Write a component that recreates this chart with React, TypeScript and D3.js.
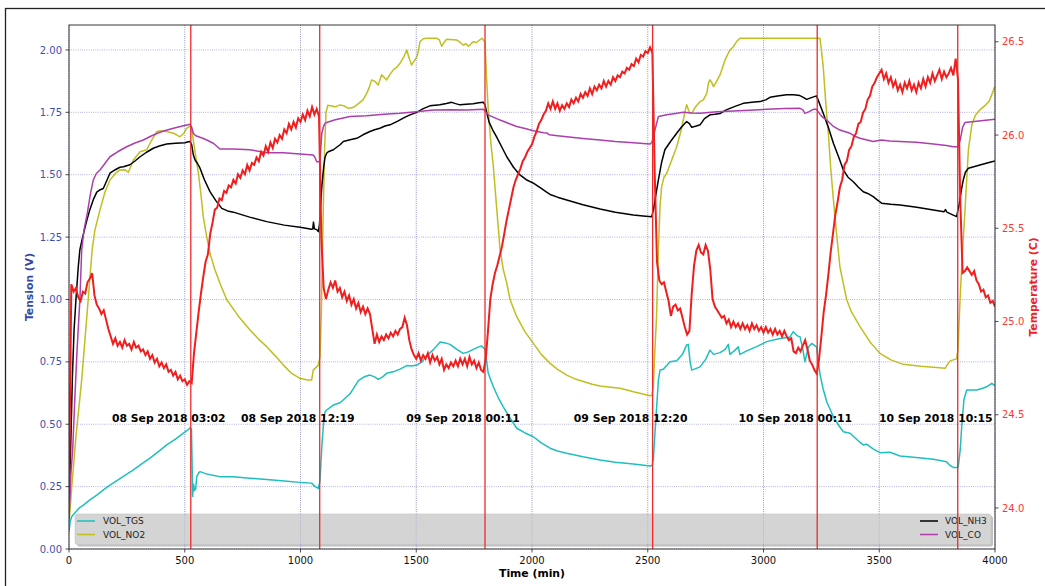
import * as d3 from "d3";
import { useEffect } from "react";

// sensor voltages, [minute, volts]
const tgsPoints: [number, number][] = [
  [0, 0.07], [5, 0.11], [12, 0.13], [26, 0.145], [45, 0.165], [62, 0.176], [90, 0.197], [120, 0.216],
  [150, 0.238], [177, 0.256], [230, 0.288], [278, 0.317], [320, 0.345], [350, 0.364], [390, 0.393],
  [422, 0.417], [460, 0.44], [494, 0.464], [515, 0.478], [523, 0.486], [529, 0.48], [532, 0.33],
  [534, 0.21], [538, 0.26], [542, 0.235], [547, 0.24], [552, 0.29], [560, 0.305], [566, 0.31],
  [590, 0.302], [609, 0.298], [652, 0.29], [710, 0.29], [780, 0.284], [854, 0.279], [930, 0.273],
  [998, 0.267], [1048, 0.264], [1063, 0.25], [1077, 0.243], [1084, 0.27], [1092, 0.41], [1100, 0.51],
  [1106, 0.55], [1113, 0.557], [1142, 0.577], [1171, 0.586], [1214, 0.622], [1250, 0.675],
  [1275, 0.69], [1300, 0.697], [1320, 0.69], [1336, 0.68], [1355, 0.69], [1372, 0.704], [1400, 0.71],
  [1430, 0.721], [1459, 0.735], [1480, 0.733], [1502, 0.737], [1525, 0.75], [1545, 0.774],
  [1575, 0.8], [1603, 0.83], [1625, 0.826], [1646, 0.82], [1675, 0.8], [1703, 0.784], [1725, 0.79],
  [1746, 0.8], [1770, 0.81], [1783, 0.814], [1797, 0.8], [1811, 0.704], [1833, 0.65], [1855, 0.605],
  [1876, 0.57], [1905, 0.525], [1934, 0.484], [1970, 0.465], [2006, 0.45], [2040, 0.425],
  [2078, 0.404], [2110, 0.393], [2150, 0.384], [2220, 0.37], [2294, 0.357], [2360, 0.348],
  [2438, 0.341], [2510, 0.333], [2519, 0.335], [2524, 0.36], [2535, 0.52], [2546, 0.677],
  [2553, 0.717], [2567, 0.72], [2596, 0.75], [2625, 0.754], [2650, 0.78], [2668, 0.818], [2675, 0.82],
  [2683, 0.75], [2690, 0.717], [2726, 0.73], [2750, 0.76], [2769, 0.797], [2784, 0.78], [2812, 0.787],
  [2835, 0.8], [2848, 0.82], [2855, 0.78], [2875, 0.795], [2891, 0.81], [2898, 0.78], [2930, 0.795],
  [2970, 0.811], [3014, 0.831], [3071, 0.844], [3114, 0.85], [3129, 0.871], [3145, 0.855],
  [3158, 0.85], [3170, 0.8], [3179, 0.75], [3194, 0.81], [3208, 0.824], [3229, 0.81], [3244, 0.7],
  [3258, 0.64], [3273, 0.59], [3302, 0.53], [3325, 0.495], [3345, 0.47], [3374, 0.464], [3402, 0.44],
  [3420, 0.425], [3431, 0.417], [3445, 0.42], [3475, 0.4], [3503, 0.386], [3546, 0.388], [3590, 0.373],
  [3660, 0.367], [3734, 0.36], [3791, 0.35], [3805, 0.335], [3820, 0.327], [3841, 0.327], [3850, 0.4],
  [3856, 0.49], [3866, 0.6], [3878, 0.637], [3921, 0.637], [3950, 0.645], [3964, 0.65], [3986, 0.664],
  [4000, 0.655],
];

const no2Points: [number, number][] = [
  [0, 0.1], [12, 0.25], [30, 0.45], [55, 0.68], [83, 1.0], [100, 1.2], [112, 1.279], [134, 1.359],
  [155, 1.43], [177, 1.479], [200, 1.505], [220, 1.519], [240, 1.52], [256, 1.51], [268, 1.535],
  [278, 1.559], [307, 1.592], [336, 1.6], [355, 1.635], [379, 1.673], [400, 1.676], [422, 1.673],
  [451, 1.666], [465, 1.66], [479, 1.652], [495, 1.665], [508, 1.686], [523, 1.695], [530, 1.68],
  [537, 1.639], [548, 1.57], [559, 1.506], [570, 1.42], [580, 1.332], [595, 1.25], [609, 1.185],
  [630, 1.12], [652, 1.065], [681, 1.0], [730, 0.935], [782, 0.878], [820, 0.84], [854, 0.811],
  [890, 0.775], [926, 0.737], [960, 0.705], [998, 0.684], [1030, 0.677], [1048, 0.677], [1055, 0.717],
  [1077, 0.737], [1084, 0.77], [1090, 0.95], [1097, 1.3], [1104, 1.6], [1110, 1.75], [1118, 1.778],
  [1150, 1.772], [1171, 1.78], [1190, 1.775], [1207, 1.766], [1229, 1.77], [1250, 1.785], [1270, 1.8],
  [1286, 1.826], [1297, 1.85], [1307, 1.88], [1320, 1.875], [1336, 1.86], [1350, 1.9], [1362, 1.89],
  [1372, 1.88], [1385, 1.9], [1401, 1.92], [1415, 1.93], [1430, 1.947], [1445, 1.97], [1459, 2.0],
  [1470, 1.965], [1480, 1.94], [1490, 1.955], [1502, 1.97], [1510, 2.0], [1516, 2.033], [1530, 2.045],
  [1545, 2.047], [1588, 2.047], [1600, 2.04], [1610, 2.015], [1620, 2.03], [1631, 2.043], [1674, 2.04],
  [1690, 2.03], [1703, 2.02], [1715, 2.025], [1725, 2.015], [1746, 2.033], [1760, 2.03], [1783, 2.047],
  [1797, 2.033], [1803, 1.9], [1811, 1.76], [1822, 1.63], [1833, 1.532], [1848, 1.36], [1862, 1.2],
  [1876, 1.12], [1891, 1.065], [1905, 1.0], [1934, 0.931], [1970, 0.87], [2006, 0.824], [2040, 0.78],
  [2078, 0.744], [2110, 0.72], [2150, 0.697], [2190, 0.68], [2222, 0.671], [2260, 0.66], [2294, 0.653],
  [2340, 0.648], [2380, 0.644], [2410, 0.637], [2438, 0.63], [2475, 0.622], [2510, 0.614],
  [2518, 0.616], [2524, 0.65], [2531, 0.8], [2538, 0.93], [2546, 1.2], [2553, 1.372], [2560, 1.452],
  [2570, 1.49], [2582, 1.506], [2600, 1.55], [2625, 1.612], [2645, 1.68], [2660, 1.75], [2668, 1.78],
  [2680, 1.75], [2690, 1.746], [2705, 1.77], [2726, 1.793], [2740, 1.8], [2755, 1.826], [2763, 1.87],
  [2769, 1.88], [2776, 1.87], [2784, 1.853], [2795, 1.87], [2812, 1.9], [2834, 1.96], [2855, 2.0],
  [2870, 2.013], [2885, 2.035], [2898, 2.047], [3244, 2.047], [3250, 2.0], [3258, 1.933], [3268, 1.8],
  [3280, 1.666], [3290, 1.53], [3302, 1.399], [3316, 1.26], [3330, 1.131], [3359, 1.0], [3380, 0.95],
  [3417, 0.891], [3460, 0.83], [3503, 0.784], [3550, 0.758], [3604, 0.74], [3680, 0.732],
  [3748, 0.727], [3784, 0.724], [3795, 0.74], [3806, 0.754], [3834, 0.762], [3840, 0.8], [3849, 1.0],
  [3860, 1.2], [3870, 1.35], [3885, 1.6], [3900, 1.7], [3915, 1.737], [3935, 1.76], [3960, 1.78],
  [3975, 1.795], [3990, 1.83], [4000, 1.855],
];

const nh3Points: [number, number][] = [
  [0, 0.15], [7, 0.4], [15, 0.7], [22, 0.88], [30, 1.0], [40, 1.13], [47, 1.2], [59, 1.25], [75, 1.31],
  [90, 1.36], [105, 1.4], [120, 1.43], [135, 1.44], [148, 1.445], [160, 1.47], [177, 1.506], [200, 1.52],
  [220, 1.53], [235, 1.532], [263, 1.54], [285, 1.555], [307, 1.572], [335, 1.59], [364, 1.606],
  [390, 1.615], [422, 1.623], [460, 1.626], [501, 1.628], [515, 1.632], [523, 1.633], [530, 1.62],
  [537, 1.58], [544, 1.56], [555, 1.545], [566, 1.526], [585, 1.48], [609, 1.432], [635, 1.395],
  [660, 1.365], [685, 1.355], [710, 1.35], [780, 1.33], [854, 1.312], [930, 1.298], [998, 1.289],
  [1048, 1.281], [1053, 1.283], [1056, 1.31], [1060, 1.283], [1070, 1.28], [1077, 1.272], [1082, 1.3],
  [1087, 1.38], [1092, 1.452], [1100, 1.53], [1106, 1.57], [1113, 1.586], [1120, 1.592], [1142, 1.6],
  [1171, 1.62], [1185, 1.633], [1214, 1.64], [1243, 1.646], [1270, 1.66], [1300, 1.673], [1320, 1.68],
  [1343, 1.686], [1365, 1.695], [1387, 1.7], [1420, 1.715], [1450, 1.73], [1473, 1.74], [1502, 1.75],
  [1530, 1.765], [1559, 1.776], [1602, 1.78], [1630, 1.785], [1653, 1.79], [1670, 1.785], [1689, 1.78],
  [1715, 1.782], [1746, 1.784], [1770, 1.788], [1790, 1.79], [1797, 1.78], [1804, 1.75], [1815, 1.71],
  [1830, 1.68], [1847, 1.652], [1870, 1.61], [1891, 1.572], [1920, 1.53], [1948, 1.499], [1975, 1.48],
  [2006, 1.466], [2040, 1.445], [2060, 1.432], [2078, 1.421], [2110, 1.41], [2150, 1.399], [2220, 1.38],
  [2294, 1.363], [2360, 1.35], [2438, 1.339], [2480, 1.335], [2517, 1.332], [2525, 1.36], [2535, 1.42],
  [2546, 1.479], [2560, 1.55], [2574, 1.6], [2600, 1.635], [2625, 1.666], [2645, 1.69], [2668, 1.713],
  [2680, 1.705], [2690, 1.69], [2710, 1.695], [2726, 1.7], [2745, 1.725], [2769, 1.74], [2790, 1.742],
  [2812, 1.745], [2835, 1.758], [2855, 1.766], [2880, 1.775], [2913, 1.786], [2950, 1.79], [2985, 1.793],
  [3010, 1.8], [3028, 1.81], [3060, 1.815], [3100, 1.82], [3130, 1.82], [3157, 1.817], [3172, 1.81],
  [3186, 1.802], [3210, 1.81], [3229, 1.816], [3240, 1.79], [3258, 1.746], [3280, 1.69], [3302, 1.626],
  [3325, 1.57], [3345, 1.519], [3365, 1.49], [3388, 1.472], [3410, 1.45], [3431, 1.432], [3450, 1.425],
  [3474, 1.412], [3490, 1.4], [3510, 1.386], [3550, 1.382], [3590, 1.379], [3662, 1.37], [3734, 1.359],
  [3780, 1.352], [3786, 1.36], [3792, 1.35], [3815, 1.34], [3834, 1.332], [3845, 1.38], [3855, 1.44],
  [3863, 1.479], [3872, 1.51], [3885, 1.526], [3935, 1.539], [3970, 1.548], [4000, 1.555],
];

const coPoints: [number, number][] = [
  [0, 0.12], [8, 0.3], [16, 0.4], [25, 0.6], [35, 0.8], [47, 1.0], [55, 1.2], [65, 1.28], [79, 1.345],
  [92, 1.42], [105, 1.479], [118, 1.505], [134, 1.519], [155, 1.545], [177, 1.572], [210, 1.592],
  [249, 1.612], [285, 1.627], [321, 1.639], [355, 1.655], [393, 1.67], [420, 1.678], [451, 1.686],
  [490, 1.695], [523, 1.702], [530, 1.69], [537, 1.666], [543, 1.66], [551, 1.655], [560, 1.652],
  [580, 1.645], [595, 1.639], [625, 1.625], [652, 1.603], [710, 1.603], [782, 1.6], [854, 1.588],
  [926, 1.588], [998, 1.583], [1055, 1.579], [1062, 1.57], [1070, 1.552], [1082, 1.552], [1087, 1.6],
  [1092, 1.666], [1100, 1.695], [1106, 1.706], [1113, 1.709], [1150, 1.72], [1214, 1.733],
  [1286, 1.736], [1360, 1.742], [1430, 1.746], [1500, 1.752], [1574, 1.759], [1650, 1.76],
  [1718, 1.759], [1790, 1.762], [1811, 1.74], [1835, 1.73], [1862, 1.719], [1900, 1.705],
  [1934, 1.693], [1970, 1.685], [2006, 1.676], [2050, 1.668], [2065, 1.667], [2075, 1.66],
  [2110, 1.656], [2150, 1.652], [2220, 1.645], [2294, 1.639], [2360, 1.633], [2438, 1.628],
  [2510, 1.623], [2518, 1.63], [2531, 1.679], [2546, 1.733], [2582, 1.74], [2620, 1.745], [2654, 1.75],
  [2690, 1.747], [2726, 1.746], [2800, 1.752], [2870, 1.755], [2940, 1.758], [3014, 1.762],
  [3090, 1.765], [3158, 1.766], [3170, 1.76], [3179, 1.746], [3195, 1.752], [3215, 1.762],
  [3229, 1.762], [3250, 1.735], [3273, 1.719], [3300, 1.695], [3330, 1.679], [3374, 1.666],
  [3400, 1.652], [3417, 1.646], [3474, 1.633], [3510, 1.639], [3545, 1.635], [3590, 1.633],
  [3660, 1.63], [3734, 1.623], [3790, 1.617], [3820, 1.612], [3841, 1.612], [3850, 1.64], [3860, 1.69],
  [3870, 1.709], [3900, 1.712], [3950, 1.717], [4000, 1.722],
];

// temperature, one reading every 10 minutes from 0 to 4000
const tempStep = 10;
const tempValues = [
  24.06, 25.20, 25.16, 25.18, 25.13, 25.11, 25.16, 25.15, 25.21, 25.23,
  25.26, 25.14, 25.09, 25.07, 25.04, 25.06, 25.01, 24.96, 24.92, 24.88,
  24.91, 24.87, 24.89, 24.86, 24.90, 24.87, 24.88, 24.85, 24.89, 24.86,
  24.87, 24.84, 24.85, 24.82, 24.84, 24.80, 24.82, 24.78, 24.80, 24.76,
  24.78, 24.75, 24.77, 24.73, 24.74, 24.71, 24.73, 24.69, 24.71, 24.68,
  24.69, 24.66, 24.68, 24.67, 24.83, 24.94, 25.05, 25.15, 25.24, 25.32,
  25.36, 25.47, 25.53, 25.60, 25.61, 25.66, 25.65, 25.70, 25.69, 25.73,
  25.72, 25.76, 25.74, 25.79, 25.77, 25.81, 25.79, 25.84, 25.81, 25.85,
  25.84, 25.88, 25.86, 25.91, 25.89, 25.94, 25.91, 25.96, 25.93, 25.98,
  25.96, 26.00, 25.98, 26.03, 26.01, 26.06, 26.03, 26.07, 26.04, 26.09,
  26.07, 26.11, 26.08, 26.13, 26.10, 26.15, 26.11, 26.14, 26.10, 25.45,
  25.18, 25.12, 25.17, 25.21, 25.18, 25.22, 25.16, 25.18, 25.13, 25.16,
  25.11, 25.14, 25.09, 25.12, 25.07, 25.10, 25.05, 25.08, 25.04, 25.07,
  25.04, 24.96, 24.88, 24.93, 24.89, 24.92, 24.90, 24.93, 24.91, 24.94,
  24.92, 24.95, 24.93, 24.96, 24.97, 25.02, 24.98, 24.90, 24.85, 24.82,
  24.80, 24.83, 24.79, 24.82, 24.80, 24.83, 24.78, 24.82, 24.79, 24.81,
  24.77, 24.80, 24.74, 24.77, 24.75, 24.78, 24.76, 24.79, 24.76, 24.80,
  24.77, 24.80, 24.76, 24.81, 24.77, 24.79, 24.75, 24.78, 24.74, 24.73,
  24.80, 24.95, 25.12, 25.20, 25.26, 25.30, 25.35, 25.40, 25.47, 25.54,
  25.60, 25.66, 25.72, 25.76, 25.79, 25.82, 25.86, 25.88, 25.91, 25.93,
  25.95, 25.99, 26.02, 26.06, 26.08, 26.11, 26.13, 26.17, 26.14, 26.18,
  26.14, 26.17, 26.13, 26.16, 26.14, 26.17, 26.15, 26.19, 26.17, 26.20,
  26.18, 26.22, 26.20, 26.23, 26.21, 26.25, 26.22, 26.26, 26.24, 26.27,
  26.25, 26.29, 26.26, 26.29, 26.27, 26.31, 26.29, 26.32, 26.31, 26.34,
  26.33, 26.36, 26.35, 26.38, 26.37, 26.41, 26.39, 26.43, 26.42, 26.45,
  26.44, 26.47, 26.44, 25.80, 25.32, 25.22, 25.20, 25.21, 25.16, 25.11,
  25.03, 25.08, 25.09, 25.06, 25.07, 25.02, 24.97, 24.93, 24.95, 25.15,
  25.30, 25.38, 25.41, 25.37, 25.36, 25.41, 25.38, 25.28, 25.12, 25.08,
  25.06, 25.04, 25.02, 25.03, 24.99, 25.01, 24.97, 25.00, 24.97, 24.99,
  24.96, 24.99, 24.96, 24.98, 24.95, 24.99, 24.96, 24.98, 24.95, 24.97,
  24.94, 24.97, 24.94, 24.96, 24.93, 24.96, 24.93, 24.95, 24.92, 24.95,
  24.92, 24.90, 24.91, 24.84, 24.83, 24.86, 24.84, 24.87, 24.90, 24.85,
  24.79, 24.77, 24.74, 24.72, 24.80, 24.92, 25.05, 25.14, 25.25, 25.37,
  25.47, 25.57, 25.64, 25.72, 25.76, 25.84, 25.86, 25.92, 25.94, 25.99,
  26.01, 26.06, 26.07, 26.12, 26.14, 26.19, 26.21, 26.26, 26.28, 26.31,
  26.33, 26.35, 26.30, 26.33, 26.28, 26.31, 26.26, 26.29, 26.24, 26.27,
  26.23, 26.28, 26.25, 26.29, 26.24, 26.27, 26.23, 26.28, 26.25, 26.30,
  26.26, 26.31, 26.28, 26.33, 26.29, 26.32, 26.35, 26.30, 26.34, 26.31,
  26.33, 26.36, 26.32, 26.41, 26.30, 25.65, 25.26, 25.27, 25.29, 25.27,
  25.25, 25.27, 25.22, 25.20, 25.16, 25.17, 25.13, 25.14, 25.10, 25.11,
  25.08,
];

// switch events: red markers and their timestamps
const eventTimes = [526, 1083, 1797, 2521, 3232, 3839];
const eventLabels = [
  "08 Sep 2018 03:02",
  "08 Sep 2018 12:19",
  "09 Sep 2018 00:11",
  "09 Sep 2018 12:20",
  "10 Sep 2018 00:11",
  "10 Sep 2018 10:15",
];

const xTicks = [0, 500, 1000, 1500, 2000, 2500, 3000, 3500, 4000];
const voltTicks = [0, 0.25, 0.5, 0.75, 1.0, 1.25, 1.5, 1.75, 2.0];
const tempTicks = [24.0, 24.5, 25.0, 25.5, 26.0, 26.5];

const FONT = "DejaVu Sans, Liberation Sans, sans-serif";
const W = 1045;
const H = 586;
const plot = { left: 69, right: 995, top: 25, bottom: 549 };

const series = [
  { name: "VOL_TGS", data: tgsPoints, color: "#1fbfbf" },
  { name: "VOL_NO2", data: no2Points, color: "#bfbf22" },
  { name: "VOL_NH3", data: nh3Points, color: "#000000" },
  { name: "VOL_CO", data: coPoints, color: "#ac3fac" },
];

export default function App() {
  useEffect(() => {
    document.body.style.margin = "0";
  }, []);

  const x = d3.scaleLinear().domain([0, 4000]).range([plot.left, plot.right]);
  const yV = d3.scaleLinear().domain([0, 2.1]).range([plot.bottom, plot.top]);
  const yT = d3.scaleLinear().domain([23.78, 26.59]).range([plot.bottom, plot.top]);

  const lineV = d3
    .line<[number, number]>()
    .x((d) => x(d[0]))
    .y((d) => yV(d[1]));

  const tempPoints = tempValues.map((v, i) => [i * tempStep, v] as [number, number]);
  const lineT = d3
    .line<[number, number]>()
    .x((d) => x(d[0]))
    .y((d) => yT(d[1]));

  const gridStyle = {
    stroke: "#4a4ab8",
    strokeOpacity: 0.65,
    strokeWidth: 0.8,
    strokeDasharray: "0.8,1.4",
  };

  const legendLeft = series.slice(0, 2);
  const legendRight = series.slice(2);

  return (
    <svg
      width={W}
      height={H}
      style={{ position: "absolute", left: 0, top: 0, background: "#fff" }}
      fontFamily={FONT}
    >
      <defs>
        <clipPath id="plotClip">
          <rect x={plot.left} y={plot.top} width={plot.right - plot.left} height={plot.bottom - plot.top} />
        </clipPath>
      </defs>

      {/* figure frame */}
      <rect x={5.5} y={8.5} width={1200} height={700} fill="none" stroke="#222" strokeWidth={1.3} />

      {/* horizontal grid (voltage axis) */}
      {voltTicks.map((v) => (
        <line key={"gh" + v} x1={plot.left} x2={plot.right} y1={yV(v)} y2={yV(v)} {...gridStyle} />
      ))}
      {xTicks.map((t) => (
        <line key={"gv" + t} x1={x(t)} x2={x(t)} y1={plot.top} y2={plot.bottom} {...gridStyle} />
      ))}

      {/* voltage series */}
      <g clipPath="url(#plotClip)" fill="none">
        {series.map((s) => (
          <path key={s.name} d={lineV(s.data) ?? ""} stroke={s.color} strokeWidth={1.5} strokeLinejoin="round" />
        ))}
      </g>

      {/* legend (lower axes) */}
      <g>
        <rect x={77} y={516} width={916} height={30.5} rx={2.5} fill="#8c8c8c" fillOpacity={0.55} />
        <rect x={75} y={514} width={916} height={30.5} rx={2.5} fill="#d3d4d3" stroke="#c4c4c4" strokeWidth={0.6} />
        {legendLeft.map((s, i) => (
          <g key={s.name}>
            <line x1={77} x2={95} y1={521 + i * 13.5} y2={521 + i * 13.5} stroke={s.color} strokeWidth={1.5} />
            <text x={103} y={521 + i * 13.5} dy="0.35em" fontSize={9} fill="#222">
              {s.name}
            </text>
          </g>
        ))}
        {legendRight.map((s, i) => (
          <g key={s.name}>
            <line x1={920} x2={938} y1={521 + i * 13.5} y2={521 + i * 13.5} stroke={s.color} strokeWidth={1.5} />
            <text x={945} y={521 + i * 13.5} dy="0.35em" fontSize={9} fill="#222">
              {s.name}
            </text>
          </g>
        ))}
      </g>

      {/* twin axes: vertical grid again, temperature and event markers */}
      {xTicks.map((t) => (
        <line key={"gv2" + t} x1={x(t)} x2={x(t)} y1={plot.top} y2={plot.bottom} {...gridStyle} strokeOpacity={0.35} />
      ))}
      <g clipPath="url(#plotClip)">
        <path d={lineT(tempPoints) ?? ""} fill="none" stroke="#ef1f1f" strokeWidth={2} strokeLinejoin="miter" />
      </g>
      {eventTimes.map((t) => (
        <line key={"ev" + t} x1={x(t)} x2={x(t)} y1={plot.top} y2={plot.bottom} stroke="#ee2a2a" strokeWidth={1.3} />
      ))}
      {eventTimes.map((t, i) => (
        <text
          key={"lb" + t}
          x={x(t - 95)}
          y={yV(0.5) - 2.5}
          textAnchor="middle"
          fontSize={10.8}
          fontWeight="bold"
          fill="#000"
        >
          {eventLabels[i]}
        </text>
      ))}

      {/* spines */}
      <rect
        x={plot.left}
        y={plot.top}
        width={plot.right - plot.left}
        height={plot.bottom - plot.top}
        fill="none"
        stroke="#222"
        strokeWidth={0.9}
      />

      {/* bottom axis */}
      {xTicks.map((t) => (
        <g key={"xt" + t}>
          <line x1={x(t)} x2={x(t)} y1={plot.bottom} y2={plot.bottom + 3.5} stroke="#222" strokeWidth={0.8} />
          <text x={x(t)} y={plot.bottom + 15} textAnchor="middle" fontSize={10} fill="#111">
            {t}
          </text>
        </g>
      ))}
      <text x={(plot.left + plot.right) / 2} y={577} textAnchor="middle" fontSize={10.8} fontWeight="bold" fill="#000">
        Time (min)
      </text>

      {/* left axis */}
      {voltTicks.map((v) => (
        <g key={"yt" + v}>
          <line x1={plot.left - 3.5} x2={plot.left} y1={yV(v)} y2={yV(v)} stroke="#222" strokeWidth={0.8} />
          <text x={plot.left - 7} y={yV(v)} dy="0.36em" textAnchor="end" fontSize={10} fill="#3f4fb0">
            {d3.format(".2f")(v)}
          </text>
        </g>
      ))}
      <text
        transform={`translate(33,${(plot.top + plot.bottom) / 2}) rotate(-90)`}
        textAnchor="middle"
        fontSize={10.8}
        fontWeight="bold"
        fill="#3646a6"
      >
        Tension (V)
      </text>

      {/* right axis */}
      {tempTicks.map((v) => (
        <g key={"rt" + v}>
          <line x1={plot.right} x2={plot.right + 3.5} y1={yT(v)} y2={yT(v)} stroke="#222" strokeWidth={0.8} />
          <text x={plot.right + 7} y={yT(v)} dy="0.36em" textAnchor="start" fontSize={10} fill="#ff3535">
            {d3.format(".1f")(v)}
          </text>
        </g>
      ))}
      <text
        transform={`translate(1037,${(plot.top + plot.bottom) / 2}) rotate(-90)`}
        textAnchor="middle"
        fontSize={10.8}
        fontWeight="bold"
        fill="#ee2222"
      >
        Temperature (C)
      </text>
    </svg>
  );
}
